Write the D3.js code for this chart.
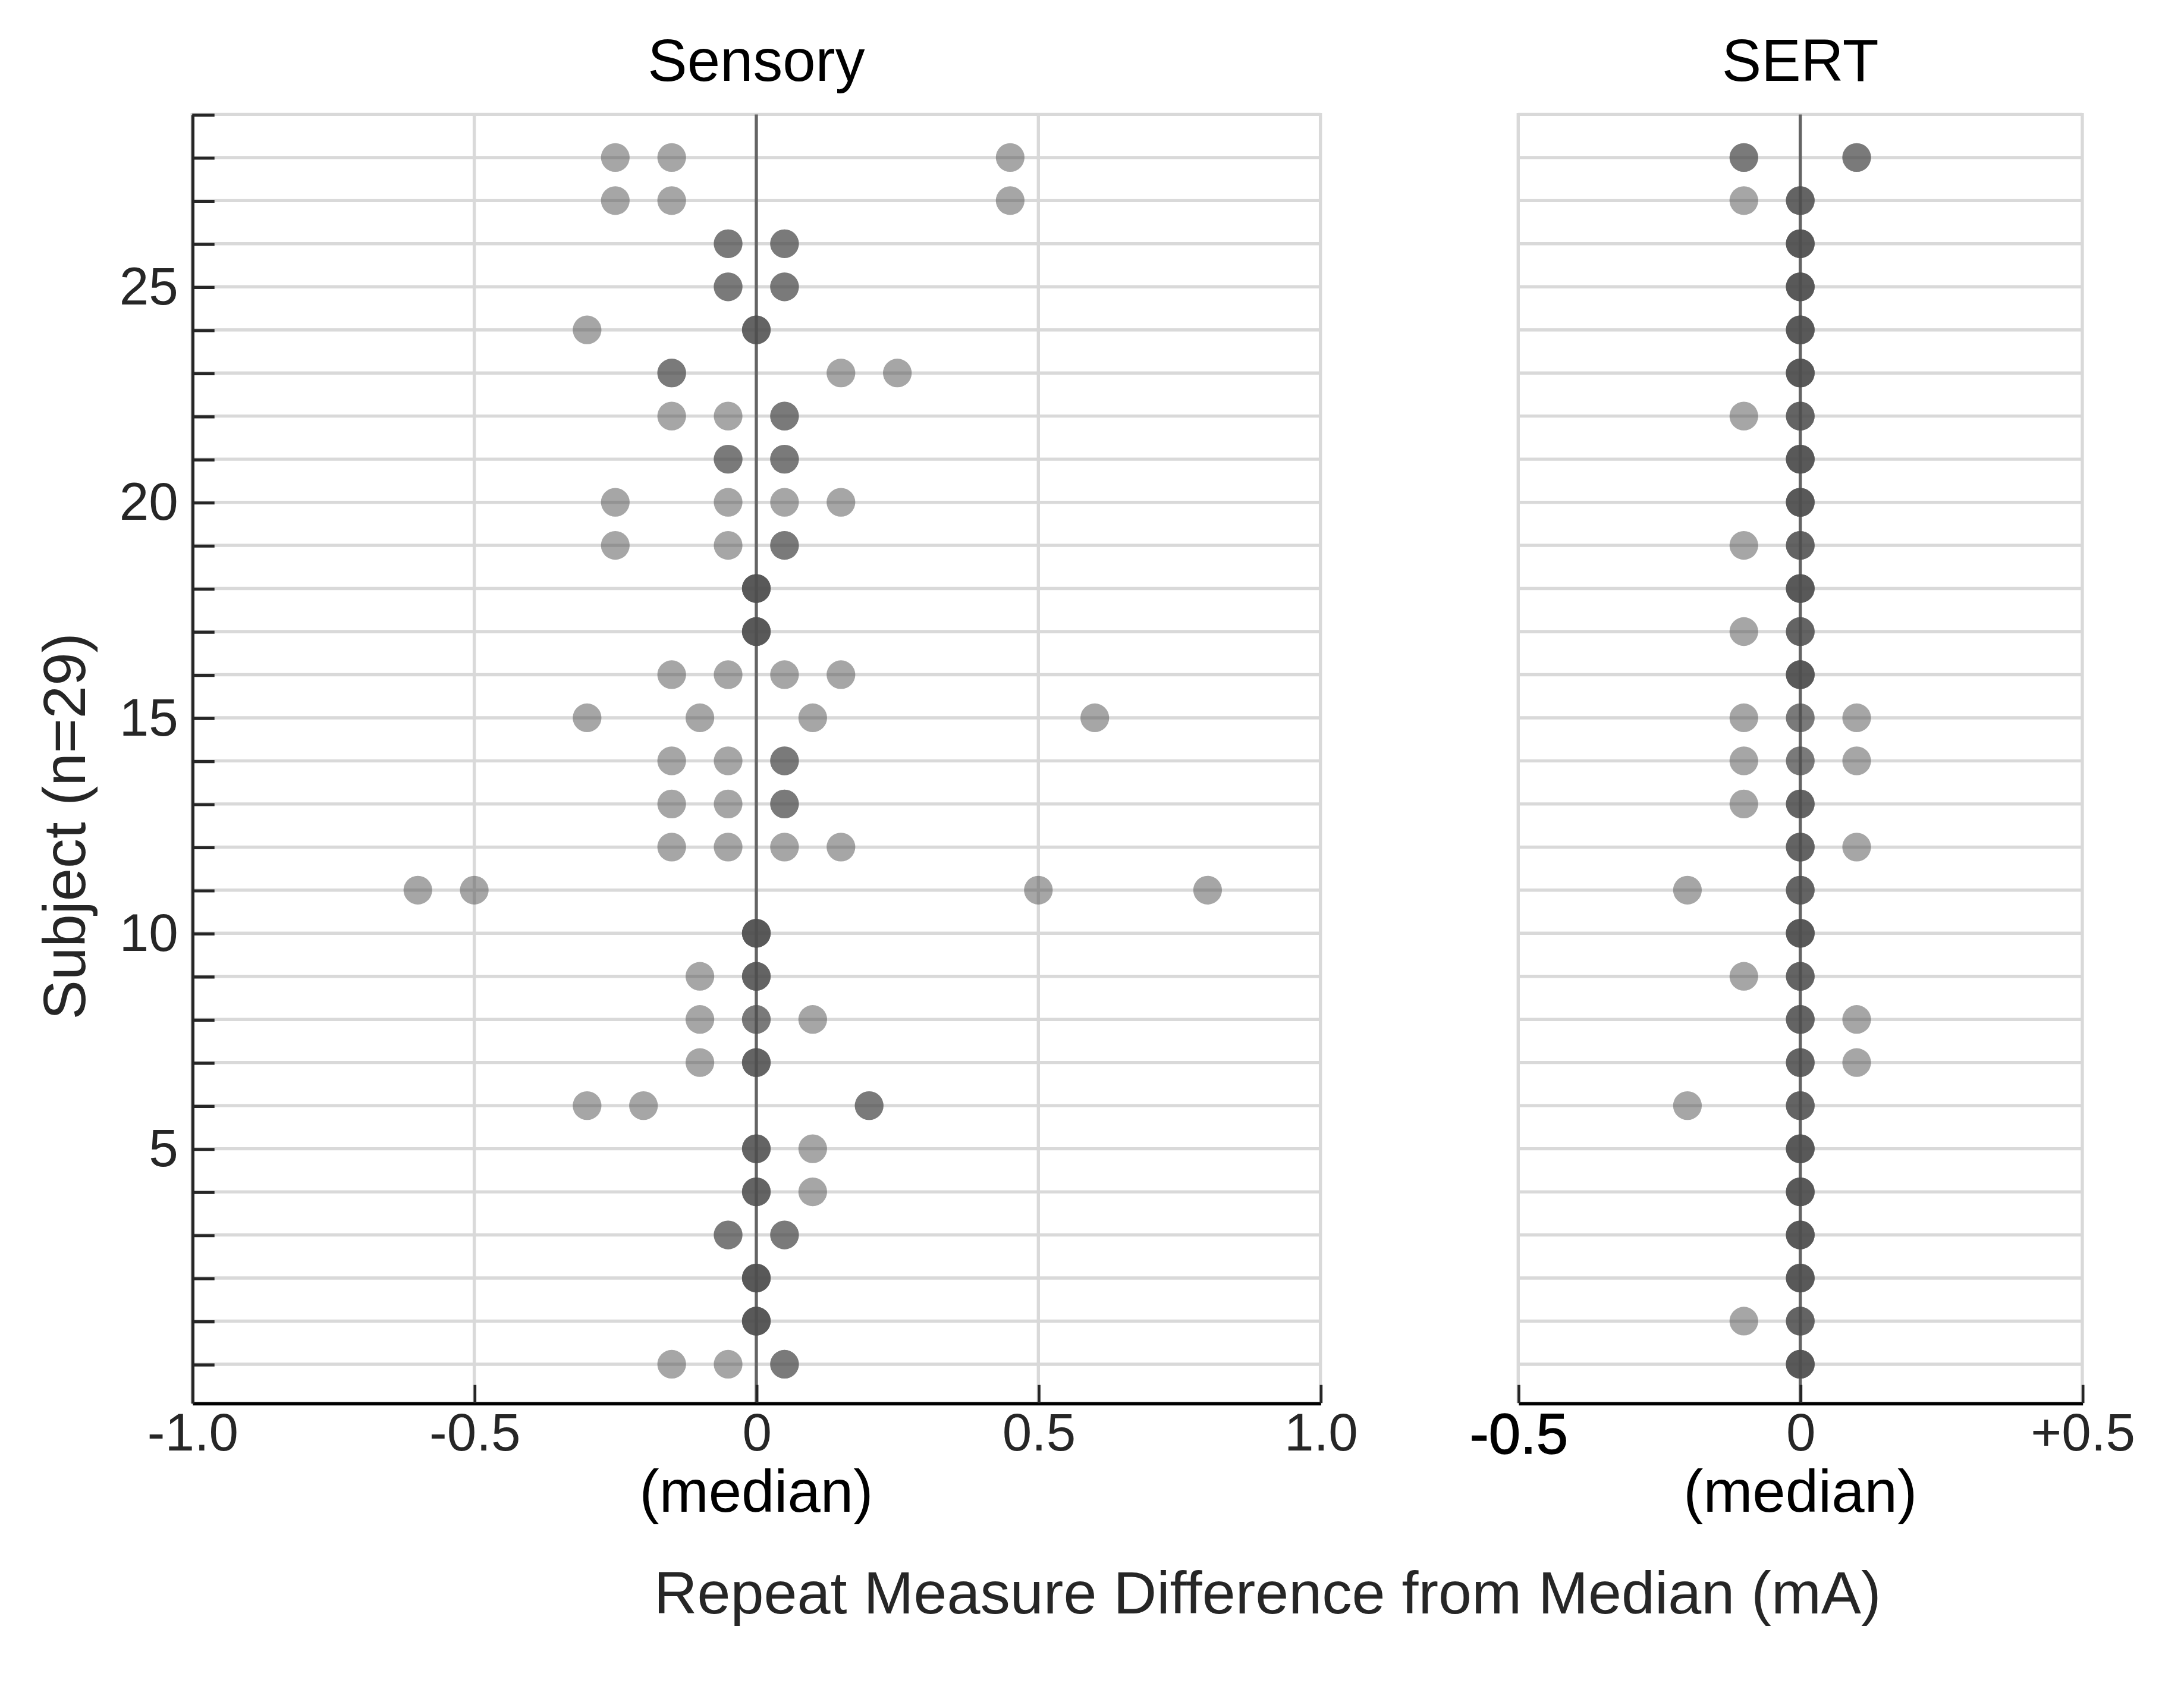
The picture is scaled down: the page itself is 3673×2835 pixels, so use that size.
<!DOCTYPE html>
<html>
<head>
<meta charset="utf-8">
<script src="https://cdn.jsdelivr.net/npm/d3@7"></script>
<style>
  html, body { margin: 0; padding: 0; background: #fff; }
  text { font-family: "Liberation Sans", Arial, sans-serif; }
</style>
</head>
<body>
<div id="chart"></div>
<script>
// subject index 0..28, repeat measures as difference from each subject's median (mA)
const subjects = d3.range(0, 29);

const sensoryValues = [
  [-0.15, -0.05, 0.05, 0.05],  // 0
  [0, 0, 0, 0],                // 1
  [0, 0, 0, 0],                // 2
  [-0.05, -0.05, 0.05, 0.05],  // 3
  [0, 0, 0, 0.1],              // 4
  [0, 0, 0, 0.1],              // 5
  [-0.3, -0.2, 0.2, 0.2],      // 6
  [-0.1, 0, 0, 0],             // 7
  [-0.1, 0, 0, 0.1],           // 8
  [-0.1, 0, 0, 0],             // 9
  [0, 0, 0, 0],                // 10
  [-0.6, -0.5, 0.5, 0.8],      // 11
  [-0.15, -0.05, 0.05, 0.15],  // 12
  [-0.15, -0.05, 0.05, 0.05],  // 13
  [-0.15, -0.05, 0.05, 0.05],  // 14
  [-0.3, -0.1, 0.1, 0.6],      // 15
  [-0.15, -0.05, 0.05, 0.15],  // 16
  [0, 0, 0, 0],                // 17
  [0, 0, 0, 0],                // 18
  [-0.25, -0.05, 0.05, 0.05],  // 19
  [-0.25, -0.05, 0.05, 0.15],  // 20
  [-0.05, -0.05, 0.05, 0.05],  // 21
  [-0.15, -0.05, 0.05, 0.05],  // 22
  [-0.15, -0.15, 0.15, 0.25],  // 23
  [-0.3, 0, 0, 0],             // 24
  [-0.05, -0.05, 0.05, 0.05],  // 25
  [-0.05, -0.05, 0.05, 0.05],  // 26
  [-0.25, -0.15, 0.45],        // 27
  [-0.25, -0.15, 0.45]         // 28
];

const sertValues = [
  [0, 0, 0, 0],                // 0
  [-0.1, 0, 0, 0],             // 1
  [0, 0, 0, 0],                // 2
  [0, 0, 0, 0],                // 3
  [0, 0, 0, 0],                // 4
  [0, 0, 0, 0],                // 5
  [-0.2, 0, 0, 0],             // 6
  [0, 0, 0, 0.1],              // 7
  [0, 0, 0, 0.1],              // 8
  [-0.1, 0, 0, 0],             // 9
  [0, 0, 0, 0],                // 10
  [-0.2, 0, 0, 0],             // 11
  [0, 0, 0, 0.1],              // 12
  [-0.1, 0, 0, 0],             // 13
  [-0.1, 0, 0, 0.1],           // 14
  [-0.1, 0, 0, 0.1],           // 15
  [0, 0, 0, 0],                // 16
  [-0.1, 0, 0, 0],             // 17
  [0, 0, 0, 0],                // 18
  [-0.1, 0, 0, 0],             // 19
  [0, 0, 0, 0],                // 20
  [0, 0, 0, 0],                // 21
  [-0.1, 0, 0, 0],             // 22
  [0, 0, 0, 0],                // 23
  [0, 0, 0, 0],                // 24
  [0, 0, 0, 0],                // 25
  [0, 0, 0, 0],                // 26
  [-0.1, 0, 0, 0],             // 27
  [-0.1, -0.1, 0.1, 0.1]       // 28
];

const sensoryTicks = [-1, -0.5, 0, 0.5, 1];
const sensoryTickLabels = ['-1.0', '-0.5', '0', '0.5', '1.0'];
const sertTicks = [-0.5, 0, 0.5];
const sertTickLabels = ['-0.5', '0', '+0.5'];
const yLabelTicks = [5, 10, 15, 20, 25];

const W = 1568, H = 1210;
const svg = d3.select('#chart').append('svg')
  .attr('width', 3673).attr('height', 2835)
  .attr('viewBox', `0 0 ${W} ${H}`);

const y = d3.scaleLinear().domain([-0.9, 29]).range([1007, 82]);
const gridColor = '#d9d9d9';

function panel(opts) {
  const x = d3.scaleLinear().domain(opts.domain).range(opts.range);
  const g = svg.append('g');

  // horizontal grid at every subject
  g.append('g').selectAll('line')
    .data(d3.range(0, 30))
    .join('line')
    .attr('x1', opts.range[0]).attr('x2', opts.range[1])
    .attr('y1', d => y(d)).attr('y2', d => y(d))
    .attr('stroke', gridColor).attr('stroke-width', 2.3);

  // vertical grid
  g.append('g').selectAll('line')
    .data(opts.ticks.filter(d => d !== 0))
    .join('line')
    .attr('x1', d => x(d)).attr('x2', d => x(d))
    .attr('y1', y(29) - 1).attr('y2', y(-0.9))
    .attr('stroke', gridColor).attr('stroke-width', 2.3);

  // median line
  g.append('line')
    .attr('x1', x(0)).attr('x2', x(0))
    .attr('y1', y(29)).attr('y2', y(-0.9))
    .attr('stroke', '#646464').attr('stroke-width', 2.3);

  const pts = [];
  opts.values.forEach((vals, i) => vals.forEach(v => pts.push({ s: subjects[i], v })));
  g.append('g').selectAll('circle')
    .data(pts)
    .join('circle')
    .attr('cx', d => x(d.v))
    .attr('cy', d => y(d.s))
    .attr('r', 10.3)
    .attr('fill', '#4d4d4d')
    .attr('fill-opacity', 0.5);

  // x axis, ticks pointing into the plot
  const xAxis = g.append('g')
    .attr('transform', `translate(0,${y(-0.9)})`)
    .call(d3.axisBottom(x)
      .tickValues(opts.ticks)
      .tickFormat((d, i) => opts.labels[i])
      .tickSizeInner(-13)
      .tickSizeOuter(0)
      .tickPadding(7));
  xAxis.select('.domain').attr('stroke', '#000').attr('stroke-width', 2.4);
  xAxis.selectAll('.tick line').attr('stroke', '#262626').attr('stroke-width', 2);
  xAxis.selectAll('.tick text')
    .attr('font-size', 38)
    .attr('fill', '#262626')
    .attr('font-family', '"Liberation Sans", Arial, sans-serif');
  if (opts.boldFirst) {
    xAxis.selectAll('.tick text').filter((d, i) => i === 0)
      .attr('fill', '#000').attr('font-size', 41)
      .attr('stroke', '#000').attr('stroke-width', 0.6);
  }

  g.append('text')
    .attr('x', x(0)).attr('y', 58)
    .attr('text-anchor', 'middle')
    .attr('font-size', 42.5)
    .attr('fill', '#000')
    .text(opts.title);

  g.append('text')
    .attr('x', x(0)).attr('y', 1085)
    .attr('text-anchor', 'middle')
    .attr('font-size', 42.5)
    .attr('fill', '#000')
    .text('(median)');

  return x;
}

panel({
  domain: [-1, 1], range: [138, 948],
  ticks: sensoryTicks, labels: sensoryTickLabels,
  values: sensoryValues, title: 'Sensory'
});

panel({
  domain: [-0.5, 0.5], range: [1090, 1495],
  ticks: sertTicks, labels: sertTickLabels,
  values: sertValues, title: 'SERT', boldFirst: true
});

// y axis on the Sensory panel only
const yAxis = svg.append('g')
  .attr('transform', 'translate(138,0)')
  .call(d3.axisLeft(y)
    .tickValues(d3.range(0, 30))
    .tickFormat(d => yLabelTicks.includes(d) ? d : '')
    .tickSizeInner(-16)
    .tickSizeOuter(0)
    .tickPadding(10));
yAxis.select('.domain').attr('stroke', '#262626').attr('stroke-width', 2.2);
yAxis.selectAll('.tick line').attr('stroke', '#262626').attr('stroke-width', 2.2);
yAxis.selectAll('.tick text')
  .attr('font-size', 38)
  .attr('fill', '#262626')
  .attr('font-family', '"Liberation Sans", Arial, sans-serif');

svg.append('text')
  .attr('x', 910).attr('y', 1158)
  .attr('text-anchor', 'middle')
  .attr('font-size', 43)
  .attr('fill', '#262626')
  .text('Repeat Measure Difference from Median (mA)');

svg.append('text')
  .attr('transform', 'translate(61,593) rotate(-90)')
  .attr('text-anchor', 'middle')
  .attr('font-size', 42.5)
  .attr('fill', '#262626')
  .text('Subject (n=29)');
</script>
</body>
</html>
